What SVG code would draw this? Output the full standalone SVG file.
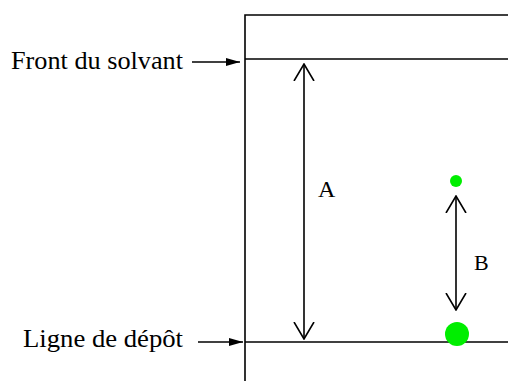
<svg xmlns="http://www.w3.org/2000/svg" width="508" height="381" viewBox="0 0 508 381">
<style>
.ln{stroke:#000;stroke-width:1.6;fill:none}
.lbl{font-family:"Liberation Serif","Times New Roman",serif;fill:#000}
.spot{fill:#00ee00}
</style>
<defs>
<marker id="filled" viewBox="0 0 14 8" refX="14" refY="4" markerWidth="14" markerHeight="8" markerUnits="userSpaceOnUse" orient="auto">
<path d="M0,0 L14,4 L0,8 Z" fill="#000"/>
</marker>
<marker id="open" viewBox="0 0 18 22" refX="17" refY="11" markerWidth="18" markerHeight="22" markerUnits="userSpaceOnUse" orient="auto">
<path d="M0,1 L17,11 L0,21" fill="none" stroke="#000" stroke-width="1.6"/>
</marker>
</defs>
<rect width="508" height="381" fill="#fff"/>
<g id="plaque">
<path class="ln" d="M245,381 V15 H508"/>
<line class="ln" x1="245" y1="59" x2="508" y2="59"/>
<line class="ln" x1="245" y1="342" x2="508" y2="342"/>
</g>
<g id="front-label">
<text class="lbl" x="11" y="69" font-size="26" textLength="172" lengthAdjust="spacingAndGlyphs">Front du solvant</text>
</g>
<g id="depot-label">
<text class="lbl" x="23" y="347" font-size="26" textLength="160" lengthAdjust="spacingAndGlyphs">Ligne de dépôt</text>
</g>
<g id="label-A">
<text class="lbl" x="318" y="197" font-size="24">A</text>
</g>
<g id="label-B">
<text class="lbl" x="474" y="270" font-size="22">B</text>
</g>
<g id="spot-top">
<circle class="spot" cx="456" cy="181" r="6"/>
</g>
<g id="spot-bottom">
<circle class="spot" cx="457" cy="334" r="12"/>
</g>
<g id="connectors">
<line class="ln" x1="192" y1="62" x2="240" y2="62" marker-end="url(#filled)"/>
<line class="ln" x1="198" y1="342" x2="243" y2="342" marker-end="url(#filled)"/>
<line class="ln" x1="304" y1="190" x2="304" y2="64" marker-end="url(#open)"/>
<line class="ln" x1="304" y1="190" x2="304" y2="339" marker-end="url(#open)"/>
<line class="ln" x1="456" y1="250" x2="456" y2="196" marker-end="url(#open)"/>
<line class="ln" x1="456" y1="250" x2="456" y2="310" marker-end="url(#open)"/>
</g>
</svg>
